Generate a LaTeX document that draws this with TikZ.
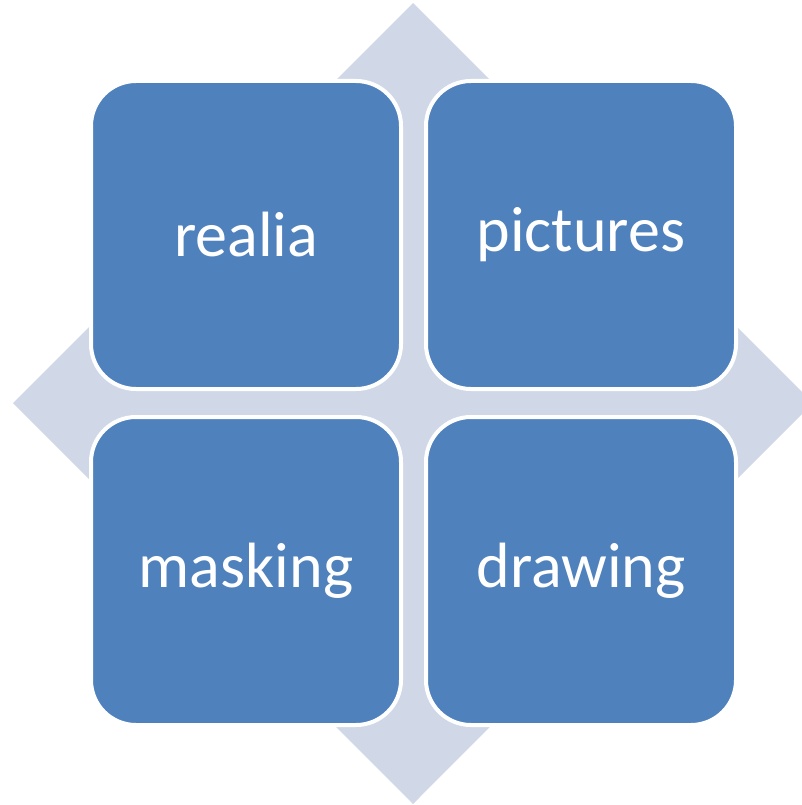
\documentclass[tikz,border=0pt]{standalone}
\usepackage{xcolor}
\usepackage{fontspec}
\setmainfont{Carlito}
\usepackage{tikz}
\usetikzlibrary{
positioning
}
\definecolor{boxblue}{HTML}{4F81BD}
\definecolor{backgrey}{HTML}{D0D8E8}

\begin{document}
\begin{tikzpicture}[
x=1pt, y=-1pt,
node distance=27pt,
box/.style={
rectangle,
rounded corners=45pt,
draw=white,
line width=4pt,
fill=boxblue,
text=white,
outer sep=0pt,
minimum width=310pt,
minimum height=308pt,
align=center,
font=\fontsize{64}{76}\selectfont
}
]

\useasboundingbox (0,0) rectangle (801,805);

% diamond behind the boxes
\coordinate (top) at (413,3);
\coordinate (right) at (813,403);
\coordinate (bottom) at (413,804);
\coordinate (left) at (13,403);
\fill[backgrey] (top) -- (right) -- (bottom) -- (left) -- cycle;

\node[box] (realia) at (246,235) {realia};

\node[box, right=25pt of realia] (pictures)
{pictures};

\node[box, below=28pt of realia] (masking)
{masking};

\node[box, below=28pt of pictures] (drawing)
{drawing};

\end{tikzpicture}
\end{document}
